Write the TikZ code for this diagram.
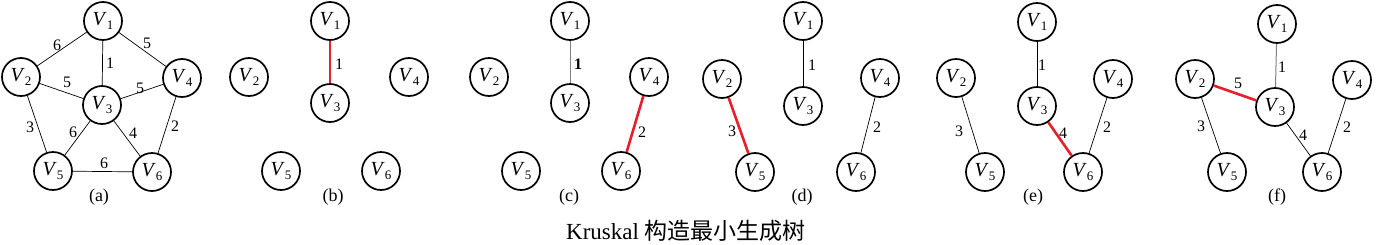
\documentclass[tikz,border=0pt]{standalone}
\usepackage{fontspec}
\setmainfont{Liberation Serif}
\newfontfamily\cjk{Noto Sans CJK SC}
\newcommand\vx[1]{\textit{V}\kern0.3pt\raisebox{-4pt}{\fontsize{13}{13}\selectfont #1}}
\definecolor{kred}{RGB}{230,30,45}
\tikzset{
  vert/.style={circle, draw, line width=1.7pt, minimum size=38pt, inner sep=0pt, font=\fontsize{20}{20}\selectfont},
  edg/.style={line width=0.7pt},
  redg/.style={line width=2.6pt, draw=kred},
  gedg/.style={line width=1pt, draw=gray},
  wt/.style={font=\fontsize{16}{16}\selectfont, inner sep=0pt},
  plab/.style={font=\fontsize{18}{18}\selectfont, inner sep=0pt},
}
\begin{document}
\begin{tikzpicture}[x=1pt,y=-1pt]
\useasboundingbox (0,0) rectangle (1378,244);
% panel a
\node[vert] (a1) at (103,21) {\vx1};
\node[vert] (a2) at (21,77) {\vx2};
\node[vert] (a3) at (102,105) {\vx3};
\node[vert] (a4) at (182,78) {\vx4};
\node[vert] (a5) at (53,171) {\vx5};
\node[vert] (a6) at (152,172) {\vx6};
\draw[edg] (a1)--(a2); \draw[edg] (a1)--(a4); \draw[edg] (a1)--(a3);
\draw[edg] (a2)--(a3); \draw[edg] (a3)--(a4); \draw[edg] (a2)--(a5);
\draw[edg] (a3)--(a5); \draw[edg] (a3)--(a6); \draw[edg] (a4)--(a6);
\draw[edg] (a5)--(a6);
\node[wt] (wa12) at (57,45) {6};
\node[wt] (wa14) at (147,43) {5};
\node[wt] (wa13) at (110,63) {1};
\node[wt] (wa23) at (67,82) {5};
\node[wt] (wa34) at (140,88) {5};
\node[wt] (wa25) at (30,127) {3};
\node[wt] (wa35) at (73,132) {6};
\node[wt] (wa36) at (133,133) {4};
\node[wt] (wa46) at (175,126) {2};
\node[wt] (wa56) at (104,163) {6};
\node[plab] (la) at (99,197) {(a)};
% panel b
\node[vert] (b1) at (330,21) {\vx1};
\node[vert] (b2) at (249,77) {\vx2};
\node[vert] (b3) at (330,103) {\vx3};
\node[vert] (b4) at (409,77) {\vx4};
\node[vert] (b5) at (281,171) {\vx5};
\node[vert] (b6) at (381,171) {\vx6};
\draw[redg] (b1)--(b3);
\node[wt] (wb13) at (339,64) {1};
\node[plab] (lb) at (333,197) {(b)};
% panel c
\node[vert] (c1) at (570,21) {\vx1};
\node[vert] (c2) at (489,77) {\vx2};
\node[vert] (c3) at (570,103) {\vx3};
\node[vert] (c4) at (649,77) {\vx4};
\node[vert] (c5) at (521,171) {\vx5};
\node[vert] (c6) at (621,171) {\vx6};
\draw[gedg] (c1)--(c3);
\draw[redg] (c4)--(c6);
\node[wt] (wc13) at (578,64) {\textbf{1}};
\node[wt] (wc46) at (642,132) {2};
\node[plab] (lc) at (569,197) {(c)};
% panel d
\node[vert] (d1) at (803,21) {\vx1};
\node[vert] (d2) at (722,79) {\vx2};
\node[vert] (d3) at (803,106) {\vx3};
\node[vert] (d4) at (880,78) {\vx4};
\node[vert] (d5) at (755,172) {\vx5};
\node[vert] (d6) at (856,172) {\vx6};
\draw[edg] (d1)--(d3);
\draw[edg] (d4)--(d6);
\draw[redg] (d2)--(d5);
\node[wt] (wd13) at (812,65) {1};
\node[wt] (wd25) at (732,131) {3};
\node[wt] (wd46) at (877,127) {2};
\node[plab] (ld) at (802,197) {(d)};
% panel e
\node[vert] (e1) at (1037,22) {\vx1};
\node[vert] (e2) at (956,78) {\vx2};
\node[vert] (e3) at (1037,106) {\vx3};
\node[vert] (e4) at (1113,79) {\vx4};
\node[vert] (e5) at (985,172) {\vx5};
\node[vert] (e6) at (1083,172) {\vx6};
\draw[edg] (e1)--(e3);
\draw[edg] (e2)--(e5);
\draw[edg] (e4)--(e6);
\draw[redg] (e3)--(e6);
\node[wt] (we13) at (1042,65) {1};
\node[wt] (we25) at (959,131) {3};
\node[wt] (we36) at (1063,133) {4};
\node[wt] (we46) at (1107,127) {2};
\node[plab] (le) at (1033,197) {(e)};
% panel f
\node[vert] (f1) at (1277,24) {\vx1};
\node[vert] (f2) at (1195,79) {\vx2};
\node[vert] (f3) at (1275,107) {\vx3};
\node[vert] (f4) at (1352,80) {\vx4};
\node[vert] (f5) at (1227,172) {\vx5};
\node[vert] (f6) at (1322,172) {\vx6};
\draw[gedg] (f1)--(f3);
\draw[edg] (f2)--(f5);
\draw[edg] (f3)--(f6);
\draw[edg] (f4)--(f6);
\draw[redg] (f2)--(f3);
\node[wt] (wf13) at (1282,67) {1};
\node[wt] (wf23) at (1238,83) {5};
\node[wt] (wf25) at (1201,126) {3};
\node[wt] (wf36) at (1303,135) {4};
\node[wt] (wf46) at (1347,127) {2};
\node[plab] (lf) at (1277,197) {(f)};
% caption
\node[font=\fontsize{23}{23}\selectfont, inner sep=0pt] (cap) at (686,231) {Kruskal {\cjk 构造最小生成树}};
\end{tikzpicture}
\end{document}
